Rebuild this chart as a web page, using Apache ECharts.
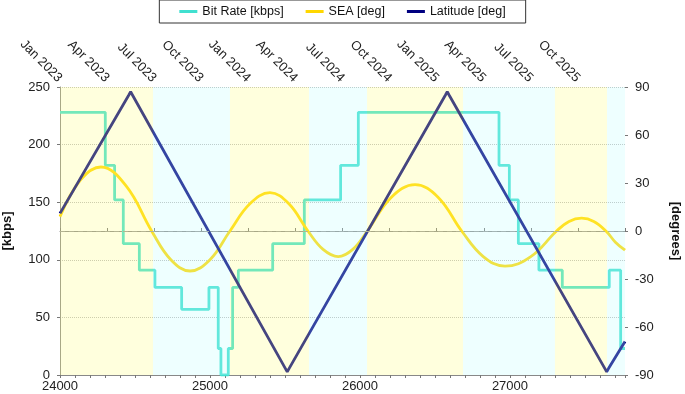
<!DOCTYPE html>
<html>
<head>
<meta charset="utf-8">
<script src="https://cdn.jsdelivr.net/npm/echarts@6/dist/echarts.min.js"></script>
<style>
  html, body { margin: 0; padding: 0; background: #fff; }
  #chart { width: 685px; height: 394px; }
</style>
</head>
<body>
<div id="chart"></div>
<script>
// bit rate steps: value holds from x until next x
const bitRateX = [24000, 24302, 24364, 24422, 24529, 24633, 24811, 24993, 25055, 25073, 25122, 25151, 25189, 25418, 25629, 25871, 25989, 26927, 26996, 27056, 27193, 27349, 27662, 27738, 27767]
const bitRateKbps = [228, 182, 152, 114, 91, 76, 57, 76, 23, 0, 23, 76, 91, 114, 152, 182, 228, 182, 152, 114, 91, 76, 91, 23, 23]

// SEA (peaks, troughs, zero crossings and points between)
const seaX = [24000, 24137, 24273, 24442, 24611, 24739, 24867, 25000, 25133, 25266, 25400, 25526, 25653, 25754, 25855, 25952, 26049, 26208, 26367, 26522, 26678, 26822, 26967, 27139, 27311, 27394, 27478, 27559, 27640, 27703, 27767]
const seaDeg = [9, 32, 40, 28, 0, -18, -25, -18, 0, 17, 24, 17, 0, -11.5, -16, -11.5, 0, 21, 29, 21, 0, -16, -22, -16, 0, 6, 8, 6, 0, -7, -12]

// Latitude: vertices
const latX = [24000, 24459, 24471, 24483, 25503, 25515, 25527, 26570, 26582, 26594, 27633, 27645, 27657, 27767]
const latDeg = [11, 85, 87, 85, -86, -88, -86, 85, 87, 85, -86, -88, -86, -69]

// shaded bands (yellow = SEA above 0, cyan = below)
const bandEdges = [24000, 24620, 25133, 25660, 26047, 26687, 27300, 27647, 27767]

const topTickLabels = ['Jan 2023', 'Apr 2023', 'Jul 2023', 'Oct 2023', 'Jan 2024', 'Apr 2024', 'Jul 2024', 'Oct 2024', 'Jan 2025', 'Apr 2025', 'Jul 2025', 'Oct 2025']

const xMin = 24000
const xMax = 27767
const font = 'Liberation Sans'

const zip = (xs, ys) => xs.map((x, i) => [x, ys[i]])

let bands = []
for (let i = 0; i < bandEdges.length - 1; i++) {
  bands.push([
    {xAxis: bandEdges[i], itemStyle: {color: i % 2 === 0 ? 'rgba(255,255,130,0.27)' : 'rgba(193,255,255,0.27)'}},
    {xAxis: bandEdges[i + 1]}
  ])
}

const chart = echarts.init(document.getElementById('chart'))

chart.setOption({
  animation: false,
  textStyle: {fontFamily: font},
  grid: {left: 60, right: 60, top: 87, bottom: 19, outerBoundsMode: 'none', containLabel: false},
  legend: {
    data: ['Bit Rate [kbps]', 'SEA [deg]', 'Latitude [deg]'],
    top: 0,
    left: 'center',
    padding: [5, 20],
    itemGap: 22,
    itemWidth: 18,
    itemHeight: 3,
    icon: 'rect',
    borderColor: '#333',
    borderWidth: 1,
    backgroundColor: '#fff',
    textStyle: {fontFamily: font, fontSize: 12.5, color: '#111'}
  },
  xAxis: [
    {
      type: 'value',
      min: xMin,
      max: xMax,
      interval: 1000,
      position: 'bottom',
      axisLine: {lineStyle: {color: '#888'}},
      axisTick: {length: 3, lineStyle: {color: '#777'}},
      minorTick: {show: true, splitNumber: 10, length: 3, lineStyle: {color: '#777'}},
      axisLabel: {fontSize: 13, color: '#222', margin: 5, showMaxLabel: false, formatter: v => String(v)},
      splitLine: {show: false}
    },
    {
      type: 'value',
      min: 0,
      max: 36,
      interval: 3,
      position: 'top',
      axisLine: {lineStyle: {color: '#888'}},
      axisTick: {length: 3, lineStyle: {color: '#777'}},
      axisLabel: {
        fontSize: 13, color: '#222', rotate: -45, margin: 7,
        formatter: v => topTickLabels[v / 3] || ''
      },
      splitLine: {show: false}
    }
  ],
  yAxis: [
    {
      type: 'value',
      min: 0,
      max: 250,
      interval: 50,
      name: '[kbps]',
      nameLocation: 'middle',
      nameGap: 46,
      nameTextStyle: {fontWeight: 'bold', fontSize: 13, color: '#111'},
      axisLine: {show: true, lineStyle: {color: '#888'}},
      axisTick: {show: true, length: 3, lineStyle: {color: '#777'}},
      axisLabel: {fontSize: 13, color: '#222', margin: 10},
      splitLine: {lineStyle: {color: '#bcbcbc', type: 'dotted'}}
    },
    {
      type: 'value',
      min: -90,
      max: 90,
      interval: 30,
      position: 'right',
      name: '[degrees]',
      nameLocation: 'middle',
      nameGap: 44,
      nameRotate: -90,
      nameTextStyle: {fontWeight: 'bold', fontSize: 13, color: '#111'},
      axisLine: {show: false},
      axisTick: {show: true, length: 3, lineStyle: {color: '#777'}},
      axisLabel: {fontSize: 13, color: '#222', margin: 10},
      splitLine: {show: false}
    }
  ],
  series: [
    {
      name: 'Bit Rate [kbps]',
      type: 'line',
      xAxisIndex: 0,
      yAxisIndex: 0,
      step: 'end',
      symbol: 'none',
      data: zip(bitRateX, bitRateKbps),
      lineStyle: {color: '#40e0d0', width: 2.8},
      itemStyle: {color: '#40e0d0'},
      z: 2
    },
    {
      name: 'SEA [deg]',
      type: 'line',
      xAxisIndex: 0,
      yAxisIndex: 1,
      smooth: 0.4,
      symbol: 'none',
      data: zip(seaX, seaDeg),
      lineStyle: {color: '#ffd700', width: 2.8},
      itemStyle: {color: '#ffd700'},
      markLine: {
        silent: true,
        symbol: 'none',
        label: {show: false},
        lineStyle: {color: '#999', type: [5, 4], width: 1},
        data: [{yAxis: 0}]
      },
      z: 2
    },
    {
      name: 'Latitude [deg]',
      type: 'line',
      xAxisIndex: 0,
      yAxisIndex: 1,
      symbol: 'none',
      data: zip(latX, latDeg),
      lineStyle: {color: '#000080', width: 2.8},
      itemStyle: {color: '#000080'},
      z: 2
    },
    {
      // translucent bands laid over the lines, this tints them like the original
      name: 'bands',
      type: 'line',
      xAxisIndex: 0,
      yAxisIndex: 0,
      data: [],
      silent: true,
      markArea: {silent: true, z: 10, data: bands},
      z: 10
    }
  ]
})
</script>
</body>
</html>
